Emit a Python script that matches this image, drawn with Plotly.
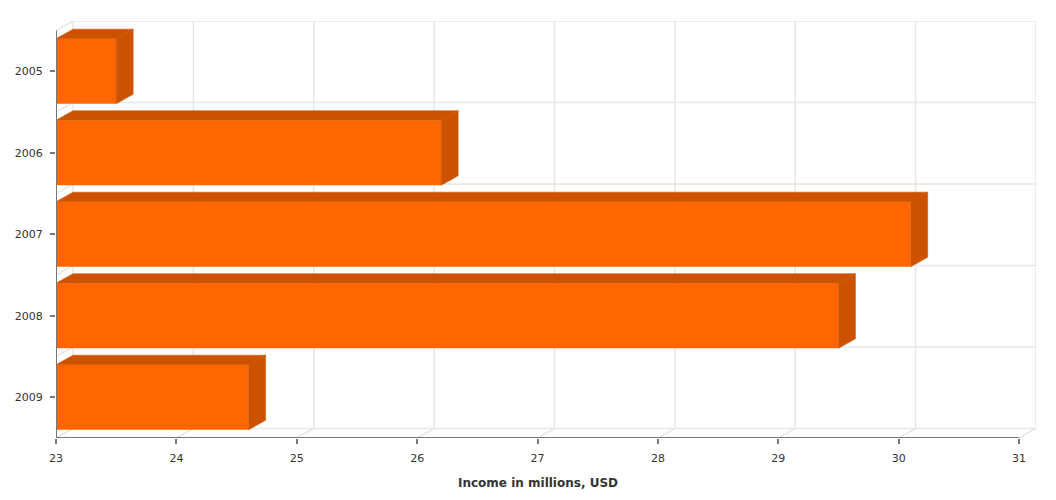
import plotly.graph_objects as go

# Annual income figures
years = ["2005", "2006", "2007", "2008", "2009"]
income = [23.5, 26.2, 30.1, 29.5, 24.6]
x_ticks = [23, 24, 25, 26, 27, 28, 29, 30, 31]
x_axis_title = "Income in millions, USD"

FRONT = "#FF6600"
SHADE = "#CC5200"
GRID = "#E6E6E6"
AXIS = "#777777"
TEXT = "#333333"
FONT = "DejaVu Sans, Verdana, sans-serif"

# Plot geometry in pixels
WIDTH, HEIGHT = 1056, 500
LEFT, RIGHT_FRONT, TOP_FRONT, BOTTOM = 56, 1019, 30.3, 438
DEPTH_X, DEPTH_Y = 17, 9.5
BAR_WIDTH = 0.8

x_min, x_max = x_ticks[0], x_ticks[-1]
dx = DEPTH_X * (x_max - x_min) / (RIGHT_FRONT - LEFT)
dy = DEPTH_Y * len(years) / (BOTTOM - TOP_FRONT)
y_front_top, y_front_bottom = -0.5, len(years) - 0.5
y_pos = list(range(len(years)))

fig = go.Figure()

# Front faces of the bars
fig.add_trace(go.Bar(
    y=y_pos, x=[v - x_min for v in income], base=x_min, orientation="h",
    width=BAR_WIDTH, marker=dict(color=FRONT, line=dict(width=0)),
    name="Income", showlegend=False,
))

# Top and side faces give each bar its depth; a hairline outline closes the seams
for pos, value in zip(y_pos, income):
    upper = pos - BAR_WIDTH / 2
    lower = pos + BAR_WIDTH / 2
    fig.add_trace(go.Scatter(
        x=[x_min, x_min + dx, value + dx, value, x_min],
        y=[upper, upper - dy, upper - dy, upper, upper],
        mode="lines", line=dict(width=0.5, color=SHADE), fill="toself", fillcolor=SHADE,
        hoverinfo="skip", showlegend=False,
    ))
    fig.add_trace(go.Scatter(
        x=[value, value + dx, value + dx, value, value],
        y=[upper, upper - dy, lower - dy, lower, upper],
        mode="lines", line=dict(width=0.5, color=SHADE), fill="toself", fillcolor=SHADE,
        hoverinfo="skip", showlegend=False,
    ))


def seg(x0, y0, x1, y1, color=GRID, width=1.5, layer="below"):
    return dict(type="line", xref="x", yref="y", x0=x0, y0=y0, x1=x1, y1=y1,
                line=dict(color=color, width=width), layer=layer)


shapes = []
# Back wall verticals and floor diagonals
for t in x_ticks:
    shapes.append(seg(t + dx, y_front_top - dy, t + dx, y_front_bottom - dy))
    shapes.append(seg(t, y_front_bottom, t + dx, y_front_bottom - dy))
# Back wall horizontals and side wall diagonals
for i in range(len(years) + 1):
    b = y_front_top + i
    shapes.append(seg(x_min + dx, b - dy, x_max + dx, b - dy))
    shapes.append(seg(x_min, b, x_min + dx, b - dy))
# Axis lines along the front edge
shapes.append(seg(x_min, y_front_top, x_min, y_front_bottom, AXIS, 2, "above"))
shapes.append(seg(x_min, y_front_bottom, x_max, y_front_bottom, AXIS, 2, "above"))

fig.update_layout(
    width=WIDTH, height=HEIGHT,
    margin=dict(l=LEFT, r=WIDTH - RIGHT_FRONT - DEPTH_X,
                t=TOP_FRONT - DEPTH_Y, b=HEIGHT - BOTTOM, pad=0),
    paper_bgcolor="white", plot_bgcolor="white",
    font=dict(family=FONT, size=11, color=TEXT),
    shapes=shapes,
    bargap=0.2,
    annotations=[dict(
        text=f"<b>{x_axis_title}</b>", x=27, xref="x", y=0, yref="paper",
        yanchor="top", yshift=-36, showarrow=False,
        font=dict(family=FONT, size=12, color=TEXT),
    )],
)
fig.update_xaxes(
    range=[x_min, x_max + dx], tickvals=x_ticks, ticktext=[str(t) for t in x_ticks],
    showgrid=False, zeroline=False, showline=False,
    ticks="outside", ticklen=5, tickwidth=2, tickcolor=AXIS, ticklabelstandoff=5,
    tickfont=dict(family=FONT, size=11, color=TEXT),
)
fig.update_yaxes(
    range=[y_front_bottom, y_front_top - dy], tickvals=y_pos, ticktext=years,
    showgrid=False, zeroline=False, showline=False,
    ticks="outside", ticklen=5, tickwidth=2, tickcolor=AXIS, ticklabelstandoff=5,
    tickfont=dict(family=FONT, size=11, color=TEXT),
)

fig.write_html("out.html")
